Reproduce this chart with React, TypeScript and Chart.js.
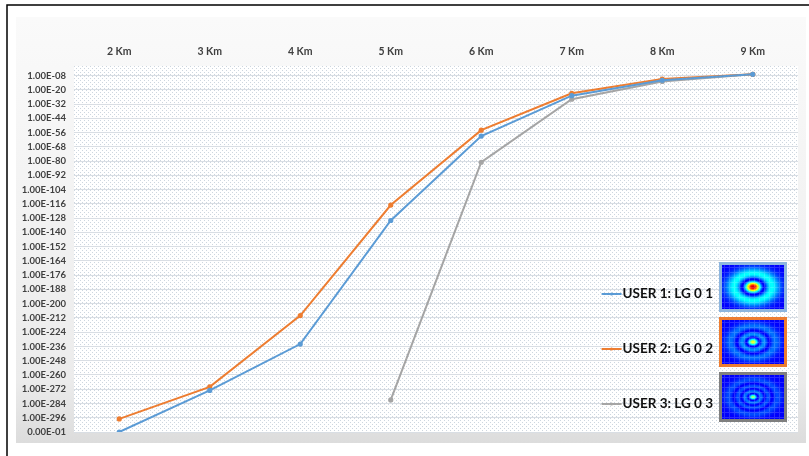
import React, { useEffect, useRef } from "react";
import { Chart, registerables } from "chart.js";

Chart.register(...registerables);

// Distances along the link
const categories = ["2 Km", "3 Km", "4 Km", "5 Km", "6 Km", "7 Km", "8 Km", "9 Km"];
// Values stored as base-10 exponents (value = 10^exponent); -308 is the axis floor (0)
const user1Exponent = [-308, -273, -234, -130, -59, -25, -12, -7];
const user2Exponent = [-297, -270, -210, -117, -54, -23, -11, -7];
const user3Exponent = [null, null, null, -281, -81, -28, -13, -7];
const seriesLabels = ["USER 1: LG 0 1", "USER 2: LG 0 2", "USER 3: LG 0 3"];
const seriesColors = ["#5B9BD5", "#ED7D31", "#A5A5A5"];
const frameColors = ["#8DB6DF", "#ED7D31", "#7F7F7F"];
const modeOrders = [1, 2, 3];
const tickExponents = [
  -8, -20, -32, -44, -56, -68, -80, -92, -104, -116, -128, -140, -152,
  -164, -176, -188, -200, -212, -224, -236, -248, -260, -272, -284, -296, -308,
];
const floorExponent = -308;
const floorLabel = "0.00E-01";

const FONT = "Lato, 'Open Sans', 'DejaVu Sans', sans-serif";

function laguerre(p: number, s: number) {
  if (p === 1) return 1 - s;
  if (p === 2) return 1 - 2 * s + (s * s) / 2;
  return 1 - 3 * s + 1.5 * s * s - (s * s * s) / 6;
}

function clamp01(v: number) {
  return Math.max(0, Math.min(1, v));
}

function makeModeImage(w: number, h: number, p: number) {
  const off = document.createElement("canvas");
  off.width = w;
  off.height = h;
  const octx = off.getContext("2d")!;
  const img = octx.createImageData(w, h);
  const w0 = p === 1 ? 0.5 : p === 2 ? 0.4 : 0.35;
  const peak = p === 1 ? 1 : p === 2 ? 0.62 : 0.52;
  for (let j = 0; j < h; j++) {
    for (let i = 0; i < w; i++) {
      const u = (i + 0.5 - w / 2) / (w / 2);
      const v = (j + 0.5 - h / 2) / (h / 2);
      const s = (2 * (u * u + v * v)) / (w0 * w0);
      const L = laguerre(p, s);
      const I = L * L * Math.exp(-s);
      const val = peak * Math.pow(I, 0.7);
      const t = 0.12 + 0.8 * val;
      let r = clamp01(1.5 - Math.abs(4 * t - 3));
      let g = clamp01(1.5 - Math.abs(4 * t - 2));
      let b = clamp01(1.5 - Math.abs(4 * t - 1));
      const grid = i % 5 === 2 || j % 5 === 2 ? 0.16 : 0;
      r = r + (1 - r) * grid;
      g = g + (1 - g) * grid;
      b = b + (1 - b) * grid;
      const k = (j * w + i) * 4;
      img.data[k] = Math.round(r * 255);
      img.data[k + 1] = Math.round(g * 255);
      img.data[k + 2] = Math.round(b * 255);
      img.data[k + 3] = 255;
    }
  }
  octx.putImageData(img, 0, 0);
  return off;
}

function makeDotPattern(ctx: CanvasRenderingContext2D) {
  const tile = document.createElement("canvas");
  tile.width = 4;
  tile.height = 4;
  const t = tile.getContext("2d")!;
  t.fillStyle = "#ffffff";
  t.fillRect(0, 0, 4, 4);
  t.fillStyle = "#cdd6df";
  t.fillRect(0, 0, 1, 1);
  t.fillRect(2, 2, 1, 1);
  return ctx.createPattern(tile, "repeat");
}

const backgroundPlugin = {
  id: "bgFrame",
  beforeDraw(chart: any) {
    const { ctx, chartArea, width, height } = chart;
    ctx.save();
    ctx.fillStyle = "#ffffff";
    ctx.fillRect(0, 0, width, height);
    // outer black frame (top and left edges visible)
    ctx.strokeStyle = "#000000";
    ctx.lineWidth = 1.5;
    ctx.beginPath();
    ctx.moveTo(7, height + 2);
    ctx.lineTo(7, 5);
    ctx.lineTo(width + 2, 5);
    ctx.stroke();
    // inner soft gradient panel
    const gx0 = 16, gy0 = 17, gx1 = width - 3, gy1 = height - 13;
    const grad = ctx.createLinearGradient(0, gy0, 0, gy1);
    grad.addColorStop(0, "#fafafa");
    grad.addColorStop(0.85, "#ececec");
    grad.addColorStop(1, "#dcdcdc");
    ctx.fillStyle = grad;
    ctx.fillRect(gx0, gy0, gx1 - gx0, gy1 - gy0);
    // dotted plot area
    const pat = makeDotPattern(ctx);
    ctx.fillStyle = pat || "#eef2f6";
    ctx.fillRect(chartArea.left, chartArea.top, chartArea.right - chartArea.left, chartArea.bottom - chartArea.top);
    ctx.restore();
  },
};

const legendPlugin = {
  id: "modeLegend",
  afterDraw(chart: any) {
    const { ctx, chartArea } = chart;
    const boxW = 68, boxH = 50, gap = 55;
    const boxRight = chartArea.right - 11;
    const lastBottom = chartArea.bottom - 10;
    ctx.save();
    chart.data.datasets.forEach((ds: any, idx: number) => {
      const n = chart.data.datasets.length;
      const boxTop = lastBottom - boxH - (n - 1 - idx) * gap;
      const boxLeft = boxRight - boxW;
      // frame
      ctx.fillStyle = frameColors[idx];
      ctx.fillRect(boxLeft, boxTop, boxW, boxH);
      const img = makeModeImage(boxW - 6, boxH - 6, modeOrders[idx]);
      ctx.drawImage(img, boxLeft + 3, boxTop + 3);
      // label
      const ty = boxTop + boxH / 2 + 7;
      ctx.font = `bold 13.5px ${FONT}`;
      ctx.textAlign = "right";
      ctx.textBaseline = "middle";
      ctx.fillStyle = "#111111";
      const textRight = boxLeft - 6;
      ctx.fillText(ds.label, textRight, ty);
      const tw = ctx.measureText(ds.label).width;
      const lx1 = textRight - tw - 1;
      const lx0 = lx1 - 20;
      ctx.strokeStyle = ds.borderColor;
      ctx.lineWidth = 2;
      ctx.beginPath();
      ctx.moveTo(lx0, ty);
      ctx.lineTo(lx1, ty);
      ctx.stroke();
      ctx.fillStyle = ds.borderColor;
      ctx.beginPath();
      ctx.arc((lx0 + lx1) / 2, ty, 1.6, 0, Math.PI * 2);
      ctx.fill();
    });
    ctx.restore();
  },
};

function formatExponent(v: number) {
  if (v === floorExponent) return floorLabel;
  const e = Math.abs(v);
  return `1.00E-${e < 10 ? "0" + e : e}`;
}

export default function App() {
  const canvasRef = useRef<HTMLCanvasElement | null>(null);

  useEffect(() => {
    const canvas = canvasRef.current;
    if (!canvas) return;
    const series = [user1Exponent, user2Exponent, user3Exponent];
    const chart = new Chart(canvas, {
      type: "line",
      data: {
        labels: categories,
        datasets: series.map((vals, i) => ({
          label: seriesLabels[i],
          data: vals,
          borderColor: seriesColors[i],
          backgroundColor: seriesColors[i],
          borderWidth: 2,
          pointRadius: 1.6,
          pointHoverRadius: 1.6,
          pointStyle: "circle",
          tension: 0,
          spanGaps: false,
        })),
      },
      options: {
        animation: false,
        responsive: false,
        maintainAspectRatio: false,
        layout: { padding: { left: 0, right: 11, top: 0, bottom: 24 } },
        plugins: {
          legend: { display: false },
          tooltip: { enabled: false },
          title: { display: false },
        },
        scales: {
          x: {
            type: "category",
            position: "top",
            offset: true,
            grid: { display: false, drawTicks: false },
            border: { display: false },
            ticks: {
              color: "#404040",
              font: { family: FONT, size: 10.5, weight: "bold" },
              padding: 8,
              maxRotation: 0,
            },
            afterFit(scale: any) {
              scale.height = 66;
            },
          },
          y: {
            type: "linear",
            min: floorExponent,
            max: 0,
            grid: { color: "#d9dee4", lineWidth: 1, drawTicks: false },
            border: { display: false },
            afterBuildTicks(scale: any) {
              scale.ticks = tickExponents.map((v) => ({ value: v }));
            },
            ticks: {
              color: "#404040",
              font: { family: FONT, size: 9.5, weight: "bold" },
              padding: 8,
              callback: (v: any) => formatExponent(Number(v)),
            },
            afterFit(scale: any) {
              scale.width = 74;
            },
          },
        },
      },
      plugins: [backgroundPlugin, legendPlugin],
    });
    return () => chart.destroy();
  }, []);

  return (
    <div style={{ position: "fixed", left: 0, top: 0, width: 809, height: 456, overflow: "hidden" }}>
      <canvas ref={canvasRef} width={809} height={456} style={{ display: "block", width: 809, height: 456 }} />
    </div>
  );
}
